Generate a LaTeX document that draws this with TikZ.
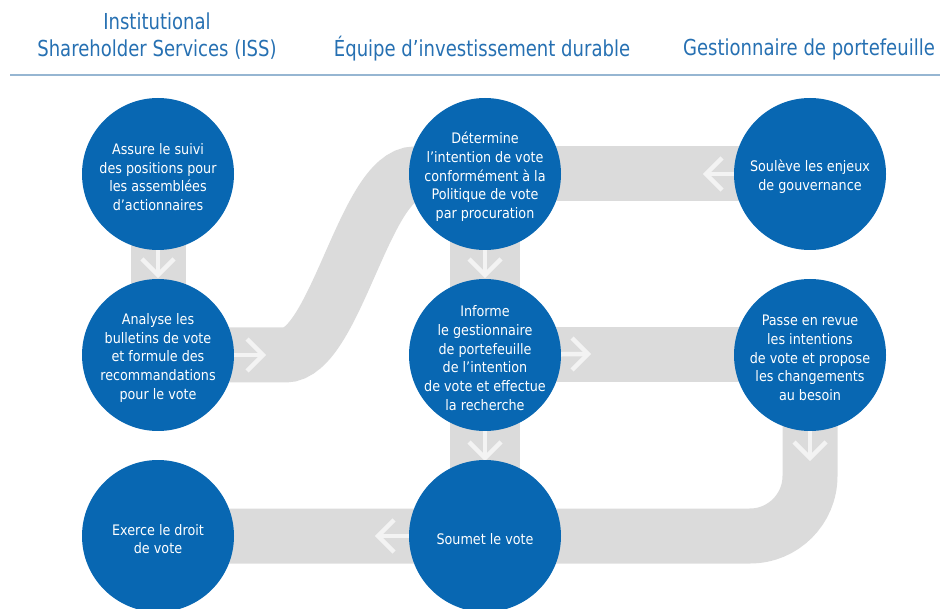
\documentclass[tikz,border=0pt]{standalone}
\usepackage{fontspec}
\setmainfont[FakeStretch=0.88]{DejaVu Sans}
\newfontfamily\headfont[FakeStretch=0.82]{DejaVu Sans}
\pgfdeclarelayer{bands}
\pgfdeclarelayer{marks}
\pgfsetlayers{bands,marks,main}
\begin{document}
\begin{tikzpicture}[x=1pt,y=-1pt]
\definecolor{stepblue}{RGB}{8,103,178}
\definecolor{headblue}{RGB}{38,112,178}
\definecolor{band}{RGB}{219,219,219}
\definecolor{rulecol}{RGB}{150,182,210}
\definecolor{arrowwhite}{RGB}{243,243,243}
\tikzset{
  stepnode/.style={circle, fill=stepblue, minimum size=152pt, inner sep=0pt},
  steplabel/.style={text=white, font=\fontsize{14.5}{18.7}\selectfont,
    align=center, inner sep=0pt, yshift=-3pt},
  header/.style={text=headblue, font=\headfont\fontsize{22}{26.5}\selectfont, align=center},
  bandline/.style={draw=band, line width=55pt},
  wideband/.style={draw=band, line width=70pt},
  warr/.style={draw=arrowwhite, line width=4.5pt, line join=miter},
}
\useasboundingbox (0,0) rectangle (940,609);

% column headings and rule
\node[header] (h1) at (157,36) {Institutional\\Shareholder Services (ISS)};
\node[header] (h2) at (482,49) {Équipe d’investissement durable};
\node[header] (h3) at (809,49) {Gestionnaire de portefeuille};
\coordinate (ruleL) at (10,75);
\coordinate (ruleR) at (940,75);
\draw[rulecol, line width=2pt] (ruleL) -- (ruleR);

% process steps
\node[stepnode, label={[steplabel]center:{Assure le suivi\\des positions pour\\les assemblées\\d’actionnaires}}] (c1) at (158,174) {};
\node[stepnode, label={[steplabel]center:{Analyse les\\bulletins de vote\\et formule des\\recommandations\\pour le vote}}] (c2) at (158,355) {};
\node[stepnode, label={[steplabel]center:{Détermine\\l’intention de vote\\conformément à la\\Politique de vote\\par procuration}}] (c3) at (485,174) {};
\node[stepnode, label={[steplabel]center:{Soulève les enjeux\\de gouvernance}}] (c4) at (810,174) {};
\node[stepnode, label={[steplabel]center:{Informe\\le gestionnaire\\de portefeuille\\de l’intention\\de vote et effectue\\la recherche}}] (c5) at (485,355) {};
\node[stepnode, label={[steplabel]center:{Passe en revue\\les intentions\\de vote et propose\\les changements\\au besoin}}] (c6) at (810,355) {};
\node[stepnode, label={[steplabel]center:{Exerce le droit\\de vote}}] (c7) at (158,536) {};
\node[stepnode, label={[steplabel]center:{Soumet le vote}}] (c8) at (485,536) {};

% grey tracks behind the steps
\begin{pgfonlayer}{bands}
  \draw[bandline] (c1.center) -- (c2.center);
  \draw[bandline] (c2.center) -- (285,355) .. controls (335,355) and (365,174) .. (415,174) -- (c3.center);
  \draw[bandline] (c4.center) -- (c3.center);
  \draw[wideband] (c3.center) -- (c8.center);
  \draw[bandline] (c5.center) -- (c6.center);
  \draw[bandline, rounded corners=60pt] (c6.center) -- (c6.center |- c8.center) -- (c7.center);
\end{pgfonlayer}

% direction marks on the tracks
\begin{pgfonlayer}{marks}
  \coordinate (t1) at (158,275);
  \coordinate (t2) at (263,355);
  \coordinate (t3) at (706,174);
  \coordinate (t4) at (485,275);
  \coordinate (t5) at (588,354);
  \coordinate (t6) at (485,458);
  \coordinate (t7) at (810,458);
  \coordinate (t8) at (378,536);
  % downward
  \foreach \s/\t in {c1/t1, c3/t4, c5/t6, c6/t7} {
    \draw[warr] (\s.center) -- (\t);
    \draw[warr] (\t) ++(-16,-16) -- (\t) -- ++(16,-16);
  }
  % rightward
  \foreach \s/\t in {c2/t2, c5/t5} {
    \draw[warr] (\s.center) -- (\t);
    \draw[warr] (\t) ++(-16,-16) -- (\t) -- ++(-16,16);
  }
  % leftward
  \foreach \s/\t in {c4/t3, c8/t8} {
    \draw[warr] (\s.center) -- (\t);
    \draw[warr] (\t) ++(16,-16) -- (\t) -- ++(16,16);
  }
\end{pgfonlayer}
\end{tikzpicture}
\end{document}
